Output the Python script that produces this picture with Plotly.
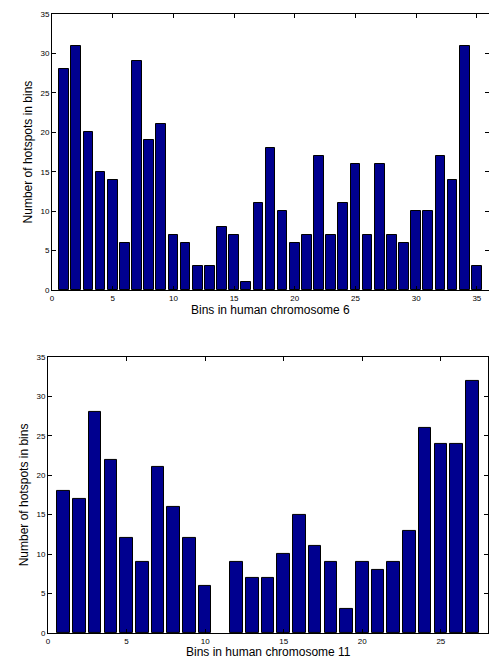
import plotly.graph_objects as go

chr6_bins = list(range(1, 36))
chr6_counts = [28, 31, 20, 15, 14, 6, 29, 19, 21, 7, 6, 3, 3, 8, 7, 1, 11, 18, 10, 6,
               7, 17, 7, 11, 16, 7, 16, 7, 6, 10, 10, 17, 14, 31, 3]
chr11_bins = list(range(1, 28))
chr11_counts = [18, 17, 28, 22, 12, 9, 21, 16, 12, 6, 0, 9, 7, 7, 10, 15, 11, 9, 3, 9,
                8, 9, 13, 26, 24, 24, 32]
y_ticks = [0, 5, 10, 15, 20, 25, 30, 35]
x6_ticks = [0, 5, 10, 15, 20, 25, 30, 35]
x11_ticks = [0, 5, 10, 15, 20, 25]
x6_title = "Bins in human chromosome 6"
x11_title = "Bins in human chromosome 11"
y_title = "Number of hotspots in bins"

BAR = "#00008F"
FONT = "Liberation Sans, Arial, sans-serif"


def outline(vals):
    return [1 if v > 0 else 0 for v in vals]


fig = go.Figure()
fig.add_trace(go.Bar(x=chr6_bins, y=chr6_counts, width=0.8,
                     marker=dict(color=BAR, line=dict(color="black", width=outline(chr6_counts))),
                     xaxis="x", yaxis="y", showlegend=False))
fig.add_trace(go.Bar(x=chr11_bins, y=chr11_counts, width=0.8,
                     marker=dict(color=BAR, line=dict(color="black", width=outline(chr11_counts))),
                     xaxis="x2", yaxis="y2", showlegend=False))

ax_common = dict(showline=True, linecolor="black", linewidth=1, mirror="allticks", ticks="inside",
                 ticklen=4, tickcolor="black", showgrid=False, zeroline=False, automargin=False,
                 tickfont=dict(size=8, family=FONT, color="black"))
tfont = dict(size=12, family=FONT, color="black")

fig.update_layout(
    width=489, height=658,
    margin=dict(l=48, r=0, t=14, b=25),
    paper_bgcolor="white", plot_bgcolor="white",
    bargap=0,
    xaxis=dict(domain=[4/441, 1], range=[0, 36], tickvals=x6_ticks, anchor="y",
               ticklabelstandoff=0, **ax_common),
    yaxis=dict(domain=[0.554, 1], range=[0, 35], tickvals=y_ticks, anchor="x",
               title=dict(text=y_title, font=tfont, standoff=5),
               **ax_common),
    xaxis2=dict(domain=[0, 440/441], range=[0, 28], tickvals=x11_ticks, anchor="y2",
                ticklabelstandoff=0, **ax_common),
    yaxis2=dict(domain=[0, 0.446], range=[0, 35], tickvals=y_ticks, anchor="x2",
                title=dict(text=y_title, font=tfont, standoff=5),
                **ax_common),
    annotations=[
        dict(text=x6_title, xref="x domain", yref="paper", x=0.5, y=(633 - 302) / 619,
             xanchor="center", yanchor="top", showarrow=False, font=tfont, borderpad=0),
        dict(text=x11_title, xref="x2 domain", yref="paper", x=0.5, y=(633 - 644) / 619,
             xanchor="center", yanchor="top", showarrow=False, font=tfont, borderpad=0),
    ],
)

fig.write_html("out.html", config={"displayModeBar": False},
               post_script="document.body.style.margin='0';document.body.style.overflow='hidden';")
